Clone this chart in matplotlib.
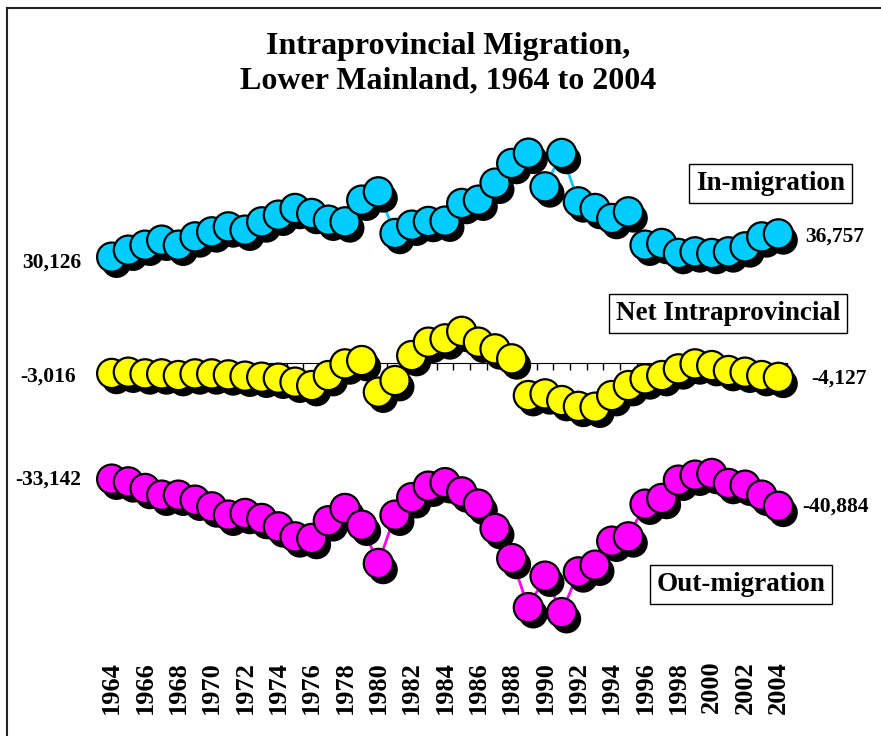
import matplotlib
matplotlib.use('Agg')
import matplotlib.pyplot as plt
import matplotlib.patheffects as pe
from matplotlib.lines import Line2D
import numpy as np

plt.rcParams['font.family'] = ['Liberation Serif', 'DejaVu Serif']
plt.rcParams['font.weight'] = 'bold'

years = list(range(1964, 2005))

# values (persons); out-migration plotted as negative
in_migration = [30126, 32120, 33540, 34970, 33540, 35910, 37340, 38760, 37820, 40190,
                42090, 44000, 42580, 40670, 40190, 46370, 48740, 36880, 39240, 40300,
                40400, 45430, 46370, 51210, 56830, 59760, 50160, 59680, 45890, 44000,
                41150, 43040, 33540, 34030, 31180, 31640, 31180, 31640, 33060, 35910,
                36757]
net_intraprovincial = [-3016, -2650, -3140, -3140, -3620, -3140, -3140, -3420, -3790, -4080,
                       -4360, -5500, -6470, -3620, -290, 660, -8350, -5040, 2080, 5900,
                       6840, 8980, 5900, 3990, 1140, -9320, -8840, -10740, -12400, -12630,
                       -9320, -6470, -4560, -3620, -1710, -290, -770, -2190, -2650, -3620,
                       -4127]
out_migration = [-33142, -33920, -35800, -37710, -37710, -39130, -41040, -43410, -42920, -44350,
                 -46740, -49590, -50050, -45000, -41500, -46260, -57170, -43410, -38420, -35140,
                 -34140, -36770, -40270, -47200, -55750, -69770, -60790, -71190, -59570, -57660,
                 -50820, -49590, -40270, -38650, -33430, -32010, -31520, -34370, -34860, -37710,
                 -40884]

series_names = ['In-migration', 'Net Intraprovincial', 'Out-migration']
series_colors = ['#00CCFF', '#FFFF00', '#FF00FF']

x = np.arange(len(years))

fig = plt.figure(figsize=(8.81, 7.36), dpi=100)
ax = fig.add_axes([0.1173, 0.1304, 0.7757, 0.7065])
ax.set_xlim(-0.5, 40.5)
ax.set_ylim(-79000, 69200)

shadow = [pe.SimplePatchShadow(offset=(3.5, -4.5), shadow_rgbFace='black', alpha=1.0), pe.Normal()]

for vals, col in zip([in_migration, net_intraprovincial, out_migration], series_colors):
    ax.plot(x, vals, color=col, lw=2, zorder=2, clip_on=False)
    ax.plot(x, vals, ls='none', marker='o', ms=21, mfc=col, mec='black', mew=1.6,
            zorder=3, path_effects=shadow, clip_on=False)

# zero line with category-boundary ticks
ax.spines['bottom'].set_position(('data', 0))
for s in ['top', 'right', 'left']:
    ax.spines[s].set_visible(False)
ax.set_yticks([])
ax.set_xticks(np.arange(-0.5, 40.6, 1))
ax.tick_params(axis='x', direction='out', length=5, width=1, labelbottom=False)

# year labels along the bottom
sec = ax.secondary_xaxis('bottom')
sec.set_xticks(x[::2], [str(y) for y in years[::2]])
sec.tick_params(length=0, pad=15, labelrotation=90, labelsize=19)
sec.spines['bottom'].set_visible(False)

# end value labels
label_offsets = [((-22, -4), (19, -2)), ((-26, -2), (24, -1)), ((-22, 0), (17, 0))]
for vals, (left_off, right_off) in zip([in_migration, net_intraprovincial, out_migration], label_offsets):
    ax.annotate(f"{vals[0]:,}", xy=(x[0], vals[0]), xytext=left_off, textcoords='offset points',
                ha='right', va='center', fontsize=15.5)
    ax.annotate(f"{vals[-1]:,}", xy=(x[-1], vals[-1]), xytext=right_off, textcoords='offset points',
                ha='left', va='center', fontsize=15.5)

# series name boxes
box_pos = [(770.5, 183.3), (728.3, 313.7), (741.3, 584.5)]
for name, (bx, by) in zip(series_names, box_pos):
    fig.text(bx / 881, 1 - by / 736, name, ha='center', va='center', fontsize=19.5,
             bbox=dict(boxstyle='square,pad=0.25', fc='white', ec='black', lw=1))

fig.text(448 / 881, 1 - 63.5 / 736, "Intraprovincial Migration,\nLower Mainland, 1964 to 2004",
         ha='center', va='center', fontsize=23, linespacing=1.25)

# outer frame (top and left edges)
fig.add_artist(Line2D([7 / 881, 1], [1 - 8 / 736] * 2, transform=fig.transFigure, color='#222222', lw=1.5))
fig.add_artist(Line2D([7 / 881] * 2, [1 - 8 / 736, 0], transform=fig.transFigure, color='#222222', lw=1.5))

fig.savefig('out.png', dpi=100)
